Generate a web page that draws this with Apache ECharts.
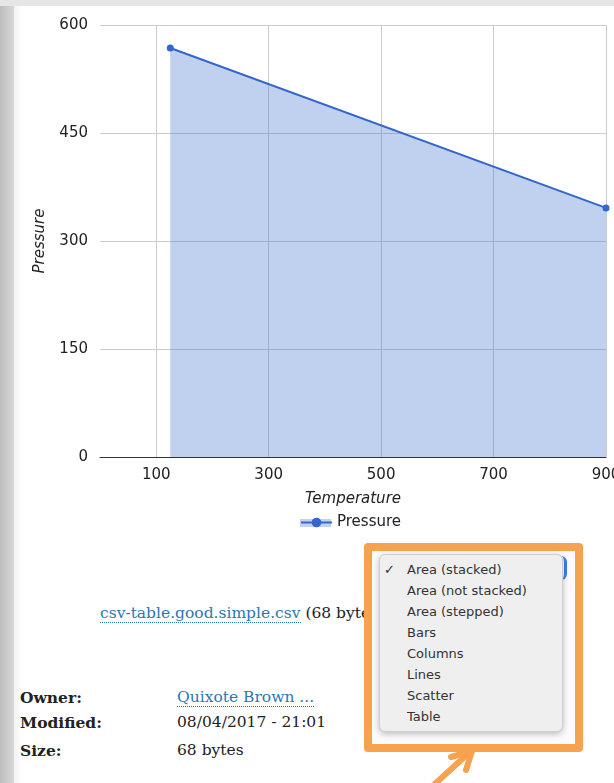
<!DOCTYPE html>
<html>
<head>
<meta charset="utf-8">
<script src="https://cdn.jsdelivr.net/npm/echarts@6/dist/echarts.min.js"></script>
<style>
  html, body { margin: 0; padding: 0; width: 614px; height: 783px; overflow: hidden; background: #fff; }
  #frame-left { position: absolute; left: 0; top: 0; width: 14px; height: 783px; background: linear-gradient(to right, #bdbdbd, #d8d8d8); }
  #frame-top { position: absolute; left: 0; top: 0; width: 614px; height: 6px; background: #e6e6e6; }
  #panel-edge { position: absolute; left: 14px; top: 6px; width: 8px; height: 777px; background: linear-gradient(to right, #f2f2f2, #fff); }
  #chart { position: absolute; left: 0; top: 0; width: 614px; height: 545px; }
  .serif { font-family: "DejaVu Serif", serif; font-size: 15.5px; color: #222; position: absolute; white-space: nowrap; }
  .link { color: #2b77b3; border-bottom: 1px dotted #2b77b3; }
  .lbl { font-weight: bold; }
  #highlight { position: absolute; left: 364px; top: 543px; width: 203px; height: 193px; border: 8px solid #f7a24f; border-radius: 4px; background: #fbfbfb; }
  #select-edge { position: absolute; left: 548px; top: 556px; width: 16px; height: 24px; border-right: 3px solid #3b82e8; border-radius: 6px; }
  #menu { position: absolute; left: 379px; top: 554px; width: 182px; height: 176px; background: #efefef; border: 1px solid #cfcfcf; border-radius: 6px; box-shadow: 0 2px 6px rgba(0,0,0,0.25); font-family: "DejaVu Sans", sans-serif; font-size: 13px; color: #333; }
  #menu div { position: absolute; left: 27px; white-space: nowrap; }
  #menu .check { left: 4px; }
</style>
</head>
<body>
<div id="frame-left"></div>
<div id="frame-top"></div>
<div id="panel-edge"></div>
<div id="chart"></div>

<div class="serif" style="left:100px; top:604px;"><span class="link">csv-table.good.simple.csv</span> (68 bytes)</div>
<div class="serif lbl" style="left:20px; top:688px;">Owner:</div>
<div class="serif lbl" style="left:20px; top:713px;">Modified:</div>
<div class="serif lbl" style="left:20px; top:741px;">Size:</div>
<div class="serif" style="left:177px; top:688px;"><span class="link">Quixote Brown ...</span></div>
<div class="serif" style="left:177px; top:713px;">08/04/2017 - 21:01</div>
<div class="serif" style="left:177px; top:741px;">68 bytes</div>

<div id="highlight"></div>
<div id="select-edge"></div>
<div id="menu"></div>
<svg style="position:absolute; left:0; top:0;" width="614" height="783">
  <g stroke="#f7a24f" stroke-width="6" stroke-linecap="round" stroke-linejoin="round" fill="none">
    <line x1="471" y1="751" x2="426" y2="792"/>
    <polyline points="451,757 472,751 466,770"/>
  </g>
</svg>

<script>
// chart data
const temperature = [125, 900];
const pressure = [568, 346];
const xTickValues = [100, 300, 500, 700, 900];
const chartTypes = ['Area (stacked)', 'Area (not stacked)', 'Area (stepped)', 'Bars', 'Columns', 'Lines', 'Scatter', 'Table'];

// dropdown items
const menu = document.getElementById('menu');
chartTypes.forEach(function (t, i) {
  const d = document.createElement('div');
  d.textContent = t;
  d.style.top = (7 + i * 21) + 'px';
  menu.appendChild(d);
  if (i === 0) {
    const c = document.createElement('div');
    c.className = 'check';
    c.textContent = '\u2713';
    c.style.top = '7px';
    menu.appendChild(c);
  }
});

const chart = echarts.init(document.getElementById('chart'));
const labelFont = { fontFamily: 'DejaVu Sans', fontSize: 15, color: '#222' };

chart.setOption({
  animation: false,
  grid: { left: 100, top: 25, width: 506, height: 432, outerBoundsMode: 'none' },
  legend: {
    left: 300,
    top: 515,
    padding: 0,
    itemWidth: 31,
    itemHeight: 12,
    textStyle: labelFont,
    data: ['Pressure']
  },
  // area patch under the legend line, like the original legend key
  graphic: [{
    type: 'rect',
    left: 300,
    top: 519,
    z: -1,
    shape: { width: 31, height: 8 },
    style: { fill: 'rgba(51,102,204,0.3)' }
  }],
  xAxis: {
    type: 'value',
    min: 0,
    max: 900,
    name: 'Temperature',
    nameLocation: 'middle',
    nameGap: 35,
    nameTextStyle: { fontFamily: 'DejaVu Sans', fontSize: 15, fontStyle: 'italic', color: '#222' },
    axisLine: { show: true, lineStyle: { color: '#333', width: 1 } },
    axisTick: { show: false, customValues: xTickValues },
    axisLabel: Object.assign({ customValues: xTickValues, margin: 11 }, labelFont),
    splitLine: { show: true, lineStyle: { color: '#cccccc', width: 1 } }
  },
  yAxis: {
    type: 'value',
    min: 0,
    max: 600,
    interval: 150,
    name: 'Pressure',
    nameLocation: 'middle',
    nameRotate: 90,
    nameGap: 52,
    nameTextStyle: { fontFamily: 'DejaVu Sans', fontSize: 15, fontStyle: 'italic', color: '#222' },
    axisLine: { show: false },
    axisTick: { show: false },
    axisLabel: Object.assign({ margin: 12 }, labelFont),
    splitLine: { show: true, lineStyle: { color: '#cccccc', width: 1 } }
  },
  series: [{
    name: 'Pressure',
    type: 'line',
    data: temperature.map(function (t, i) { return [t, pressure[i]]; }),
    symbol: 'circle',
    symbolSize: 7,
    lineStyle: { color: '#3366cc', width: 2 },
    itemStyle: { color: '#3366cc' },
    areaStyle: { color: '#3366cc', opacity: 0.31 }
  }]
});
</script>
</body>
</html>
